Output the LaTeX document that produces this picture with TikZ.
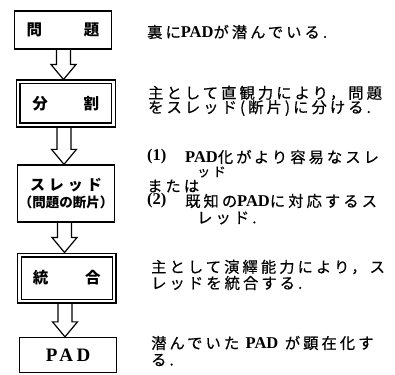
\documentclass[tikz,border=0pt]{standalone}
\usepackage{fontspec}
\newfontfamily\jp{Noto Sans CJK JP}[LetterSpace=20,FakeBold=0.5]
\newfontfamily\jpbox{Noto Sans CJK JP}
\newfontfamily\ser{Liberation Serif}
\newfontfamily\serw{Liberation Serif}[LetterSpace=18]
\usetikzlibrary{calc}
\newcommand\padw{{\ser\bfseries\fontsize{16.5}{16}\selectfont PAD}}
\newcommand\barr[3]{\draw[barrow] let \p1=(#2.south), \p2=(#3.north) in
  ({#1pt-7pt},\y1) -- ({#1pt-7pt},\y2+15pt) -- ({#1pt-12.5pt},\y2+15pt) -- ({#1pt},\y2)
  -- ({#1pt+12.5pt},\y2+15pt) -- ({#1pt+7pt},\y2+15pt) -- ({#1pt+7pt},\y1);}
\begin{document}
\begin{tikzpicture}[x=1pt,y=-1pt,
  box/.style={draw, line width=1.3pt, inner sep=0pt, align=center,
    font=\jpbox\bfseries\fontsize{15.5}{16}\selectfont},
  dbox/.style={draw, double, double distance=2.6pt, line width=1.2pt, inner sep=0pt,
    outer sep=2.5pt, font=\jpbox\bfseries\fontsize{15.5}{16}\selectfont},
  txt/.style={anchor=west, inner sep=0pt, font=\jp\fontsize{15.3}{16}\selectfont},
  barrow/.style={line width=1.2pt, line join=miter}]
\useasboundingbox (0,0) rectangle (395,374);
% boxes
\node[box, minimum width=97pt, minimum height=38pt] (b1) at (63,30) {問\hspace{42pt}題};
\node[dbox, minimum width=95.5pt, minimum height=43pt] (b2) at (65.75,103.5) {分\hspace{36pt}割};
\node[box, minimum width=97pt, minimum height=57pt] (b3) at (66,193.5)
  {\jpbox\bfseries\fontsize{15}{20}\selectfont ス\hspace{4pt}レ\hspace{4pt}ッ\hspace{4pt}ド\\[1pt]\fontsize{13.5}{20}\selectfont （問題の断片）};
\node[dbox, minimum width=94.5pt, minimum height=46pt] (b4) at (66.75,278) {統\hspace{37pt}合};
\node[box, minimum width=97pt, minimum height=35pt, font=\serw\bfseries\fontsize{19}{20}\selectfont] (b5) at (68,355) {PAD};
% arrows
\barr{63.5}{b1}{b2}
\barr{64}{b2}{b3}
\barr{64.5}{b3}{b4}
\barr{65}{b4}{b5}
% texts
\node[txt] (t1) at (147,32) {裏に\padw が潜んでいる.};
\node[txt] (t2a) at (148,93) {主として直観力により，問題};
\node[txt] (t2b) at (148,108) {をスレッド(断片)に分ける.};
\node[txt] (t3a) at (147,157) {\ser\bfseries\fontsize{16.5}{16}\selectfont (1)};
\node[txt] (t3b) at (185,157) {\padw 化がより容易なスレ};
\node[txt, font=\jp\fontsize{13}{14}\selectfont] (t3c) at (197,172) {ッド};
\node[txt] (t3d) at (147,186) {または};
\node[txt] (t3e) at (147,201) {\ser\bfseries\fontsize{16.5}{16}\selectfont (2)};
\node[txt] (t3f) at (185,201) {既知の\padw に対応するス};
\node[txt] (t3g) at (197,218) {レッド.};
\node[txt] (t4a) at (151,267) {主として演繹能力により，ス};
\node[txt] (t4b) at (151,283) {レッドを統合する.};
\node[txt] (t5a) at (151,343) {潜んでいた \padw{} が顕在化す};
\node[txt] (t5b) at (151,360) {る.};
\end{tikzpicture}
\end{document}
